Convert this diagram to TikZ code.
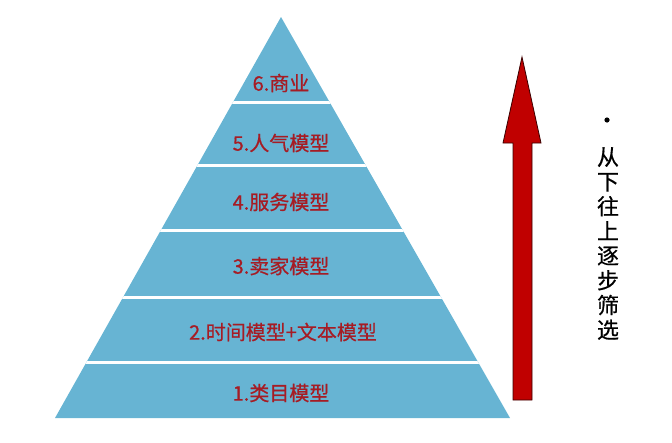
\documentclass[tikz,border=0pt]{standalone}
\usepackage{fontspec}
\setmainfont{Noto Sans CJK SC}
\newfontfamily\boldcjk[FakeBold=0.6]{Noto Sans CJK SC}
\usepackage{tikz}
\usetikzlibrary{positioning}
\definecolor{layerblue}{HTML}{67B4D3}
\definecolor{labelred}{HTML}{A61C24}
\definecolor{arrowred}{HTML}{C00000}

\begin{document}
\begin{tikzpicture}[x=1pt,y=-1pt]
  \tikzstyle{LayerStyle}=[fill=layerblue]
  \tikzstyle{SepStyle}=[white, line width=3pt]
  \tikzstyle{LabelStyle}=[text=labelred, font=\boldcjk\fontsize{20}{20}\selectfont, inner sep=0pt]
  \useasboundingbox (0,0) rectangle (672,442);

  \coordinate (apex) at (281,17);
  \coordinate (bl) at (55,418);
  \coordinate (br) at (510,418);

  % pyramid
  \fill[LayerStyle] (apex) -- (bl) -- (br) -- cycle;
  \begin{scope}
    \clip (apex) -- (bl) -- (br) -- cycle;
    \foreach \y in {102,165,230,297,362}
      \draw[SepStyle] (0,\y) -- (672,\y);
  \end{scope}

  \node[LabelStyle] (l6) at (281,83) {6.商业};
  \node[LabelStyle] (l5) at (281,143) {5.人气模型};
  \node[LabelStyle] (l4) at (281,202) {4.服务模型};
  \node[LabelStyle] (l3) at (281,266) {3.卖家模型};
  \node[LabelStyle] (l2) at (283,332) {2.时间模型+文本模型};
  \node[LabelStyle] (l1) at (281,393) {1.类目模型};

  % arrow
  \draw[fill=arrowred, draw=black!70!arrowred, line width=0.8pt]
    (513,400) -- (513,143) -- (503,143) -- (522,57) -- (541,143)
    -- (532,143) -- (532,400) -- cycle;

  % side note
  \fill (607,120) circle (2.6);
  \node[font=\boldcjk\fontsize{22}{24.7}\selectfont, align=center, inner sep=0pt, anchor=north]
    (note) at (608,147) {从\\下\\往\\上\\逐\\步\\筛\\选};
\end{tikzpicture}
\end{document}
